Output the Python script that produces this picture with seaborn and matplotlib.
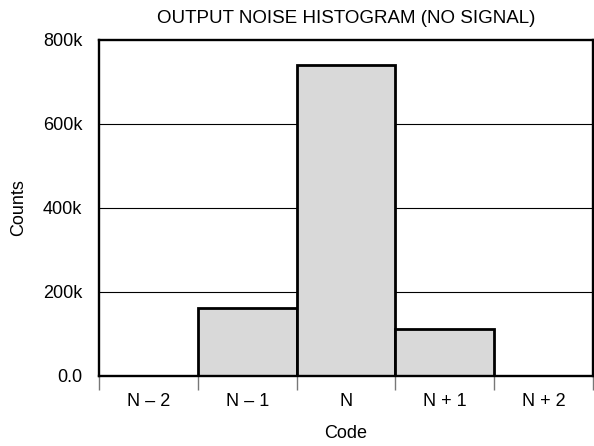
import matplotlib
matplotlib.use("Agg")
import matplotlib.pyplot as plt
import seaborn as sns
import pandas as pd
from matplotlib.ticker import FixedLocator

codes = ["N – 2", "N – 1", "N", "N + 1", "N + 2"]
counts = [0, 163000, 741000, 112000, 0]
yticks = [0, 200000, 400000, 600000, 800000]
ytick_labels = ["0.0", "200k", "400k", "600k", "800k"]

sns.set_theme(style="white")
plt.rcParams['font.family'] = ['Liberation Sans', 'DejaVu Sans']

df = pd.DataFrame({"Code": codes, "Counts": counts})

fig = plt.figure(figsize=(5.94, 4.46), dpi=100)
ax = fig.add_axes([99/594, 70/446, 494/594, 336/446])

sns.barplot(data=df, x="Code", y="Counts", ax=ax, color="#d9d9d9",
            width=1.0, edgecolor="black", linewidth=2, saturation=1, zorder=3)

ax.set_xlim(-0.5, len(codes) - 0.5)
ax.set_ylim(0, 800000)
ax.set_yticks(yticks)
ax.set_yticklabels(ytick_labels)
for y in yticks[1:-1]:
    ax.axhline(y, color="black", linewidth=0.8, zorder=1)

fs = 13
ax.xaxis.set_minor_locator(FixedLocator([i - 0.5 for i in range(len(codes) + 1)]))
ax.tick_params(axis="x", which="major", length=0, pad=12, labelsize=fs, colors="black")
ax.tick_params(axis="x", which="minor", length=10, width=1, color="#777777", direction="out")
ax.tick_params(axis="y", which="major", length=0, pad=12, labelsize=fs, colors="black")
ax.xaxis.set_ticks_position("bottom")

for s in ax.spines.values():
    s.set_visible(True)
    s.set_color("black")
    s.set_linewidth(1.7)
    s.set_zorder(4)

ax.set_xlabel("Code", fontsize=fs, labelpad=11, color="black")
ax.set_ylabel("Counts", fontsize=fs, labelpad=11, color="black")
ax.set_title("OUTPUT NOISE HISTOGRAM (NO SIGNAL)", fontsize=13.5, pad=12, color="black")

fig.savefig("out.png", dpi=100)
